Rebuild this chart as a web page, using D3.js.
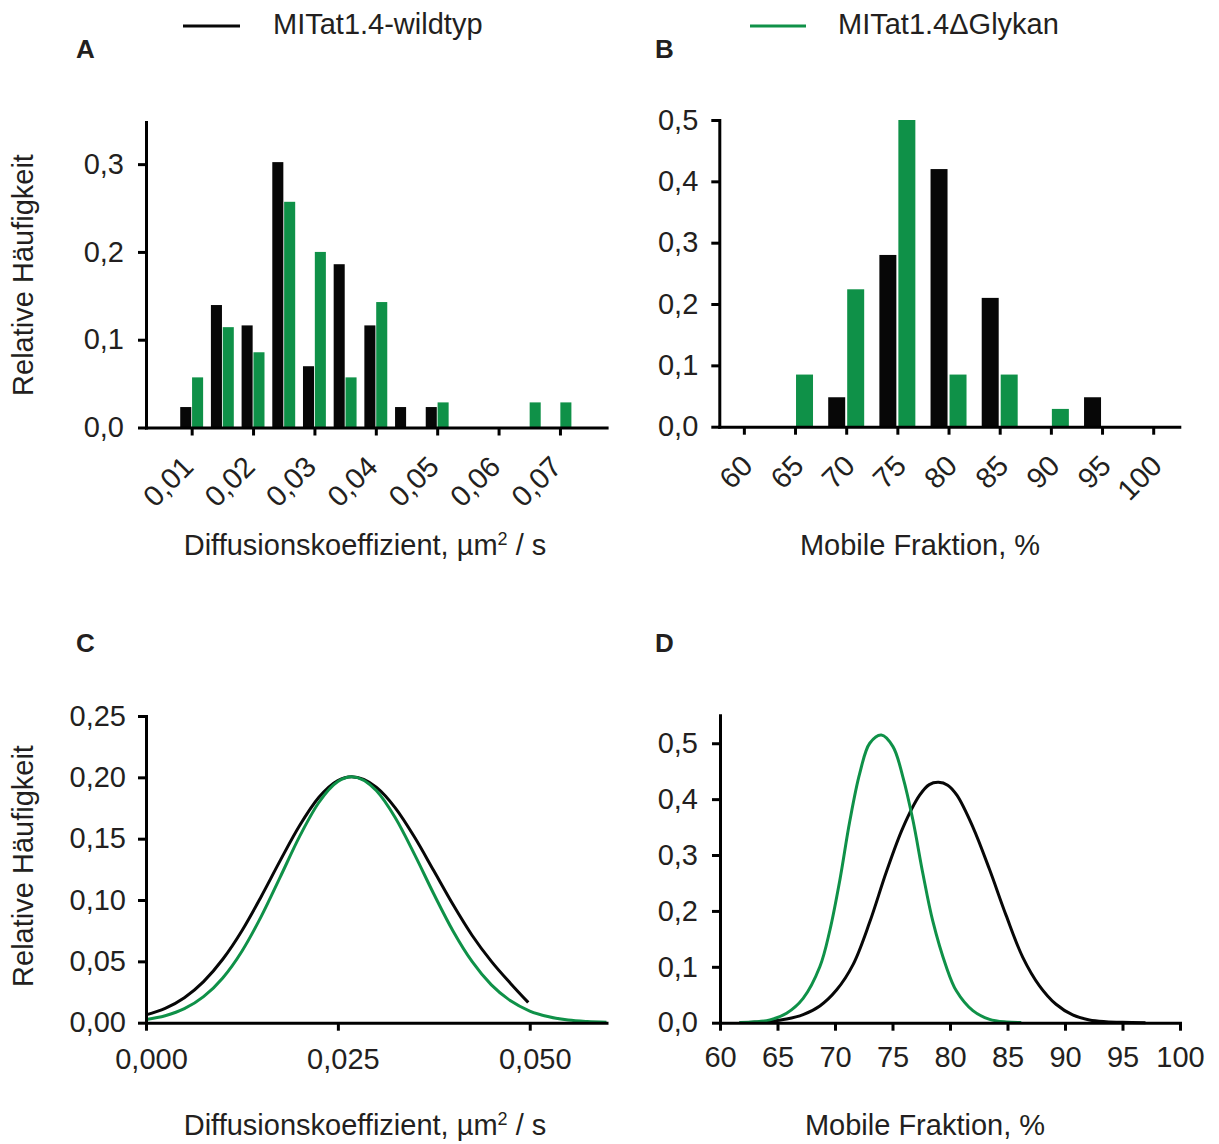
<!DOCTYPE html>
<html><head><meta charset="utf-8">
<script src="https://cdn.jsdelivr.net/npm/d3@7"></script>
<style>
body{margin:0;background:#fff;}
svg text{font-family:'Liberation Sans',Arial,Helvetica,sans-serif;fill:#231f20;}
</style></head><body>
<svg id="c" width="1219" height="1144"></svg>
<script>
// ---------------- data ----------------
const seriesNames = ["MITat1.4-wildtyp", "MITat1.4\u0394Glykan"];
const seriesColors = ["#070707", "#0f9148"];
const panelLetters = ["A", "B", "C", "D"];
const yTitle = "Relative Häufigkeit";
const xTitleDiff = "Diffusionskoeffizient, µm";
const xTitleMob = "Mobile Fraktion, %";

// Panel A: histogram of diffusion coefficients
const binsA  = [0.010, 0.015, 0.020, 0.025, 0.030, 0.035, 0.040, 0.045, 0.050, 0.055, 0.060, 0.065, 0.070];
const wildA  = [0.0233, 0.1395, 0.1163, 0.3023, 0.0698, 0.1860, 0.1163, 0.0233, 0.0233, 0, 0, 0, 0];
const glykA  = [0.0571, 0.1143, 0.0857, 0.2571, 0.2000, 0.0571, 0.1429, 0, 0.0286, 0, 0, 0.0286, 0.0286];
const xTicksA = [0.01, 0.02, 0.03, 0.04, 0.05, 0.06, 0.07];
const xTickLabelsA = ["0,01", "0,02", "0,03", "0,04", "0,05", "0,06", "0,07"];
const yTicksA = [0, 0.1, 0.2, 0.3];
const yTickLabelsA = ["0,0", "0,1", "0,2", "0,3"];

// Panel B: histogram of mobile fraction
const binsB = [60, 65, 70, 75, 80, 85, 90, 95, 100];
const wildB = [0, 0, 0.048, 0.28, 0.42, 0.21, 0, 0.048, 0];
const glykB = [0, 0.085, 0.224, 0.5, 0.085, 0.085, 0.029, 0, 0];
const xTicksB = [60, 65, 70, 75, 80, 85, 90, 95, 100];
const xTickLabelsB = ["60", "65", "70", "75", "80", "85", "90", "95", "100"];
const yTicksB = [0, 0.1, 0.2, 0.3, 0.4, 0.5];
const yTickLabelsB = ["0,0", "0,1", "0,2", "0,3", "0,4", "0,5"];

// Panel C: fitted distributions (diffusion coefficient)
const wildCx = [0, 0.0025, 0.005, 0.0075, 0.01, 0.0125, 0.015, 0.0175, 0.02, 0.0225, 0.025, 0.0268, 0.03, 0.0325, 0.035, 0.0375, 0.04, 0.0425, 0.045, 0.0475, 0.0498];
const wildCy = [0.0064, 0.0117, 0.0204, 0.0335, 0.0517, 0.0750, 0.1027, 0.1323, 0.1605, 0.1835, 0.1974, 0.2005, 0.1920, 0.1749, 0.1511, 0.1238, 0.0963, 0.0711, 0.0500, 0.0320, 0.0165];
const glykCx = [0, 0.0025, 0.005, 0.0075, 0.01, 0.0125, 0.015, 0.0175, 0.02, 0.0225, 0.025, 0.0268, 0.03, 0.0325, 0.035, 0.0375, 0.04, 0.0425, 0.045, 0.0475, 0.05, 0.0525, 0.055, 0.0575, 0.06];
const glykCy = [0.0026, 0.0057, 0.0114, 0.0212, 0.0365, 0.0583, 0.0865, 0.1189, 0.1517, 0.1793, 0.1966, 0.2005, 0.1892, 0.1668, 0.1370, 0.1049, 0.0748, 0.0497, 0.0308, 0.0178, 0.0095, 0.0048, 0.0022, 0.0010, 0.0004];
const xTicksC = [0, 0.025, 0.05];
const xTickLabelsC = ["0,000", "0,025", "0,050"];
const yTicksC = [0, 0.05, 0.10, 0.15, 0.20, 0.25];
const yTickLabelsC = ["0,00", "0,05", "0,10", "0,15", "0,20", "0,25"];

// Panel D: fitted distributions (mobile fraction)
const wildDx = [61.7, 63.0, 64.34, 65.79, 67.23, 68.68, 70.13, 71.57, 73.02, 74.47, 75.91, 77.36, 78.2, 79.0, 79.8, 80.6, 81.99, 83.44, 84.88, 86.33, 87.78, 89.22, 90.67, 92.12, 93.57, 95.0, 97.0];
const wildDy = [0.0002, 0.0008, 0.0025, 0.0065, 0.0145, 0.030, 0.0585, 0.104, 0.180, 0.270, 0.349, 0.407, 0.426, 0.430, 0.425, 0.407, 0.350, 0.274, 0.192, 0.117, 0.066, 0.033, 0.014, 0.005, 0.0018, 0.0006, 0.0001];
const glykDx = [61.7, 63.0, 64.34, 65.79, 67.23, 68.68, 69.55, 70.42, 71.28, 72.15, 73.02, 74.03, 75.04, 75.9, 76.77, 77.64, 78.5, 79.66, 80.55, 81.99, 83.44, 84.9, 86.2];
const glykDy = [0.0003, 0.0015, 0.005, 0.017, 0.0436, 0.100, 0.165, 0.255, 0.360, 0.446, 0.500, 0.5147, 0.494, 0.440, 0.363, 0.267, 0.182, 0.101, 0.057, 0.0215, 0.006, 0.0012, 0.0002];
const xTicksD = [60, 65, 70, 75, 80, 85, 90, 95, 100];
const xTickLabelsD = ["60", "65", "70", "75", "80", "85", "90", "95", "100"];
const yTicksD = [0, 0.1, 0.2, 0.3, 0.4, 0.5];
const yTickLabelsD = ["0,0", "0,1", "0,2", "0,3", "0,4", "0,5"];

// ---------------- drawing ----------------
const svg = d3.select("#c");
const FS = 29;

function styleAxis(g) {
  g.select(".domain").attr("stroke", "#000").attr("stroke-width", 3).attr("stroke-linecap", "square");
  g.selectAll(".tick line").attr("stroke", "#000").attr("stroke-width", 3);
  g.selectAll(".tick text").attr("font-size", FS).attr("fill", "#231f20")
    .attr("font-family", "'Liberation Sans',Arial,sans-serif");
}

function yAxis(y, x0, ticks, labels, pad) {
  const g = svg.append("g").attr("transform", `translate(${x0},0)`)
    .call(d3.axisLeft(y).tickValues(ticks).tickSize(8).tickSizeOuter(0).tickPadding(pad)
      .tickFormat((d, i) => labels[i]));
  styleAxis(g);
  return g;
}
function xAxis(x, y0, ticks, labels, pad) {
  const g = svg.append("g").attr("transform", `translate(0,${y0})`)
    .call(d3.axisBottom(x).tickValues(ticks).tickSize(8).tickSizeOuter(0).tickPadding(pad)
      .tickFormat((d, i) => labels[i]));
  styleAxis(g);
  return g;
}
function rotateLabels(g, dx, dy) {
  g.selectAll(".tick text").attr("x", 0).attr("y", 0).attr("dy", 0)
    .attr("text-anchor", "end").attr("transform", `translate(${dx},${dy}) rotate(-45)`);
}
function yLabel(cx, cy) {
  svg.append("text").attr("transform", `translate(${cx},${cy}) rotate(-90)`)
    .attr("text-anchor", "middle").attr("font-size", FS).text(yTitle);
}
function diffTitle(cx, by) {
  const t = svg.append("text").attr("x", cx).attr("y", by).attr("text-anchor", "middle").attr("font-size", FS);
  t.append("tspan").text(xTitleDiff);
  t.append("tspan").attr("font-size", 18).attr("dy", -10).text("2");
  t.append("tspan").attr("dy", 10).text(" / s");
}
function mobTitle(cx, by) {
  svg.append("text").attr("x", cx).attr("y", by).attr("text-anchor", "middle").attr("font-size", FS).text(xTitleMob);
}
function letter(i, x, y) {
  svg.append("text").attr("x", x).attr("y", y).attr("font-size", 26).attr("font-weight", "bold")
    .text(panelLetters[i]);
}
function curve(x, y, xs, ys, color, curveType) {
  const line = d3.line().x(d => x(d[0])).y(d => y(Math.max(0, d[1]))).curve(curveType);
  svg.append("path").datum(xs.map((v, i) => [v, ys[i]])).attr("d", line)
    .attr("fill", "none").attr("stroke", color).attr("stroke-width", 3);
}

// Legend
[[183, 240, 273], [750, 806, 838]].forEach((p, i) => {
  svg.append("line").attr("x1", p[0]).attr("x2", p[1]).attr("y1", 26).attr("y2", 26)
    .attr("stroke", seriesColors[i]).attr("stroke-width", 3);
  svg.append("text").attr("x", p[2]).attr("y", 34).attr("font-size", FS).text(seriesNames[i]);
});

// ----- Panel A -----
{
  const x = d3.scaleLinear().domain([0.00256, 0.0776]).range([146, 606.6]);
  const y = d3.scaleLinear().domain([0, 0.348]).range([427.5, 122]);
  const bw = x(0.00256 + 0.0018) - x(0.00256);
  const gA = svg.append("g");
  gA.selectAll("rect.w").data(binsA).join("rect").attr("class", "w")
    .attr("x", d => x(d) - bw - 0.4).attr("width", bw)
    .attr("y", (d, i) => y(wildA[i])).attr("height", (d, i) => y(0) - y(wildA[i]))
    .attr("fill", seriesColors[0]);
  gA.selectAll("rect.g").data(binsA).join("rect").attr("class", "g")
    .attr("x", d => x(d) + 0.4).attr("width", bw)
    .attr("y", (d, i) => y(glykA[i])).attr("height", (d, i) => y(0) - y(glykA[i]))
    .attr("fill", seriesColors[1]);
  yAxis(y, 146, yTicksA, yTickLabelsA, 14);
  const gx = xAxis(x, 427.5, xTicksA, xTickLabelsA, 10);
  rotateLabels(gx, 3, 41);
  yLabel(33, 275);
  diffTitle(365, 555);
  letter(0, 76, 58);
}

// ----- Panel B -----
{
  const x = d3.scaleLinear().domain([57.6, 102.55]).range([719.3, 1179.3]);
  const y = d3.scaleLinear().domain([0, 0.5]).range([426.7, 120]);
  const bw = x(57.6 + 1.66) - x(57.6);
  const gB = svg.append("g");
  gB.selectAll("rect.w").data(binsB).join("rect").attr("class", "w")
    .attr("x", d => x(d) - bw - 1).attr("width", bw)
    .attr("y", (d, i) => y(wildB[i])).attr("height", (d, i) => y(0) - y(wildB[i]))
    .attr("fill", seriesColors[0]);
  gB.selectAll("rect.g").data(binsB).join("rect").attr("class", "g")
    .attr("x", d => x(d) + 1).attr("width", bw)
    .attr("y", (d, i) => y(glykB[i])).attr("height", (d, i) => y(0) - y(glykB[i]))
    .attr("fill", seriesColors[1]);
  yAxis(y, 719.3, yTicksB, yTickLabelsB, 13);
  const gx = xAxis(x, 426.7, xTicksB, xTickLabelsB, 10);
  rotateLabels(gx, 10, 41);
  mobTitle(920, 555);
  letter(1, 655, 58);
}

// ----- Panel C -----
{
  const x = d3.scaleLinear().domain([0, 0.06]).range([146, 606.5]);
  const y = d3.scaleLinear().domain([0, 0.25]).range([1022.7, 716]);
  curve(x, y, wildCx, wildCy, seriesColors[0], d3.curveMonotoneX);
  curve(x, y, glykCx, glykCy, seriesColors[1], d3.curveMonotoneX);
  yAxis(y, 146, yTicksC, yTickLabelsC, 12);
  const gx = xAxis(x, 1022.7, xTicksC, xTickLabelsC, 18);
  gx.selectAll(".tick text").attr("dx", 5);
  yLabel(33, 866);
  diffTitle(365, 1135);
  letter(2, 76, 652);
}

// ----- Panel D -----
{
  const x = d3.scaleLinear().domain([60, 100]).range([720, 1180]);
  const y = d3.scaleLinear().domain([0, 0.55]).range([1022.7, 715.3]);
  curve(x, y, wildDx, wildDy, seriesColors[0], d3.curveCatmullRom.alpha(0.5));
  curve(x, y, glykDx, glykDy, seriesColors[1], d3.curveCatmullRom.alpha(0.5));
  yAxis(y, 720, yTicksD, yTickLabelsD, 14);
  xAxis(x, 1022.7, xTicksD, xTickLabelsD, 16);
  mobTitle(925, 1135);
  letter(3, 655, 652);
}
</script>
</body></html>
